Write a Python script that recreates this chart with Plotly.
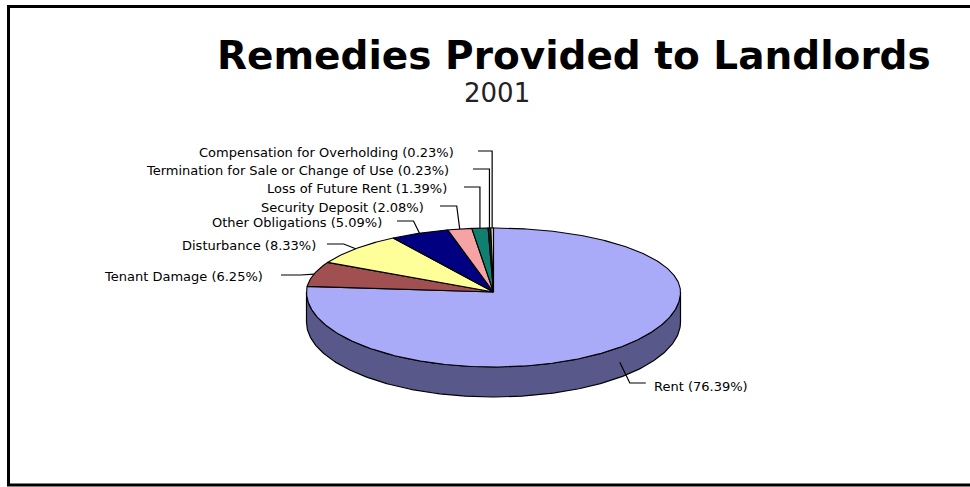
import numpy as np
import plotly.graph_objects as go

# ---------------- data ----------------
categories = ["Rent", "Tenant Damage", "Disturbance", "Other Obligations",
              "Security Deposit", "Loss of Future Rent",
              "Termination for Sale or Change of Use", "Compensation for Overholding"]
percents = [76.39, 6.25, 8.33, 5.09, 2.08, 1.39, 0.23, 0.23]
title_text = "Remedies Provided to Landlords"
subtitle_text = "2001"

# ---------------- styles / layout ----------------
colors = ["#A9ABF9", "#A05050", "#FFFF99", "#000080",
          "#F5A3A3", "#0F8070", "#222222", "#D0D0C0"]
side_color = "#58588A"
W, H = 970, 487
CX, CY = 493.5, 292.0      # pie centre (pixels)
A = 187.0                  # horizontal radius
B_TOP, B_BOT = 64.0, 75.0  # vertical radius (perspective)
DEPTH = 30.0

# label layout for the left-hand labels (index into categories):
# (index, text right x, line y, line start x, elbow offset from pie point)
left_labels = [
    (7, 456, 151, 478, 0),
    (6, 451, 169, 473, 0),
    (5, 449, 187, 464, 0),
    (4, 426, 206, 440, 3),
    (3, 384, 221, 397, 6),
    (2, 318, 244, 327, 12),
    (1, 265, 275, 281, 13),
]
label_font = dict(family="DejaVu Sans", size=13, color="black")


def ell(theta_deg, dy=0.0):
    t = np.radians(theta_deg)
    c = np.cos(t)
    b = np.where(c >= 0, B_TOP, B_BOT)
    return CX + A * np.sin(t), CY - b * c + dy


fig = go.Figure()

total = sum(percents)
starts = np.concatenate([[0], np.cumsum(percents)[:-1]]) / total * 360.0
ends = np.cumsum(percents) / total * 360.0

# side wall (visible part: from 90 to 270 deg, all belongs to first slice)
vis0, vis1 = max(90.0, starts[0]), min(270.0, ends[0])
th = np.linspace(vis0, vis1, 200)
xt, yt = ell(th)
xb, yb = ell(th[::-1], DEPTH)
fig.add_trace(go.Scatter(
    x=np.concatenate([xt, xb, xt[:1]]), y=np.concatenate([yt, yb, yt[:1]]),
    mode="lines", fill="toself", fillcolor=side_color,
    line=dict(color="black", width=1.2), hoverinfo="skip", showlegend=False))

# top face slices
for i, (s, e) in enumerate(zip(starts, ends)):
    n = max(4, int((e - s) * 2))
    th = np.linspace(s, e, n)
    xs, ys = ell(th)
    fig.add_trace(go.Scatter(
        x=np.concatenate([[CX], xs, [CX]]), y=np.concatenate([[CY], ys, [CY]]),
        mode="lines", fill="toself", fillcolor=colors[i],
        line=dict(color="black", width=1.1), hoverinfo="skip", showlegend=False))

annotations = []
label_strings = [f"{c} ({p:.2f}%)" for c, p in zip(categories, percents)]

# left labels with leader lines
for idx, tx, ly, lx, off in left_labels:
    mid = (starts[idx] + ends[idx]) / 2
    px, py = ell(mid)
    px, py = float(px), float(py)
    fig.add_trace(go.Scatter(
        x=[lx, px - off, px], y=[ly, ly, py], mode="lines",
        line=dict(color="black", width=1.2), hoverinfo="skip", showlegend=False))
    annotations.append(dict(x=tx, y=ly + 1.5, xref="x", yref="y", text=label_strings[idx],
                            showarrow=False, xanchor="right", yanchor="middle",
                            font=label_font))

# Rent label (on the right, from the side wall)
mid0 = (starts[0] + ends[0]) / 2
px, py = ell(mid0, DEPTH / 2)
px, py = float(px), float(py)
fig.add_trace(go.Scatter(
    x=[px, px + 10, px + 26], y=[py, 383, 383], mode="lines",
    line=dict(color="black", width=1.2), hoverinfo="skip", showlegend=False))
annotations.append(dict(x=px + 32, y=386, xref="x", yref="y", text=label_strings[0],
                        showarrow=False, xanchor="left", yanchor="middle", font=label_font))

# titles
annotations.append(dict(x=574, y=55, xref="x", yref="y", text=f"<b>{title_text}</b>",
                        showarrow=False, xanchor="center", yanchor="middle",
                        font=dict(family="DejaVu Sans", size=39, color="black")))
annotations.append(dict(x=497, y=93, xref="x", yref="y", text=subtitle_text,
                        showarrow=False, xanchor="center", yanchor="middle",
                        font=dict(family="DejaVu Sans", size=26, color="#222222")))

fig.update_layout(
    width=W, height=H, margin=dict(l=0, r=0, t=0, b=0),
    paper_bgcolor="white", plot_bgcolor="white",
    xaxis=dict(range=[0, W], visible=False, fixedrange=True),
    yaxis=dict(range=[H, 0], visible=False, fixedrange=True),
    annotations=annotations,
    shapes=[dict(type="rect", xref="x", yref="y", x0=8.5, y0=6.5, x1=990, y1=485,
                 line=dict(color="black", width=3))],
    showlegend=False,
)

fig.write_html("out.html", config={"displayModeBar": False, "staticPlot": True})
